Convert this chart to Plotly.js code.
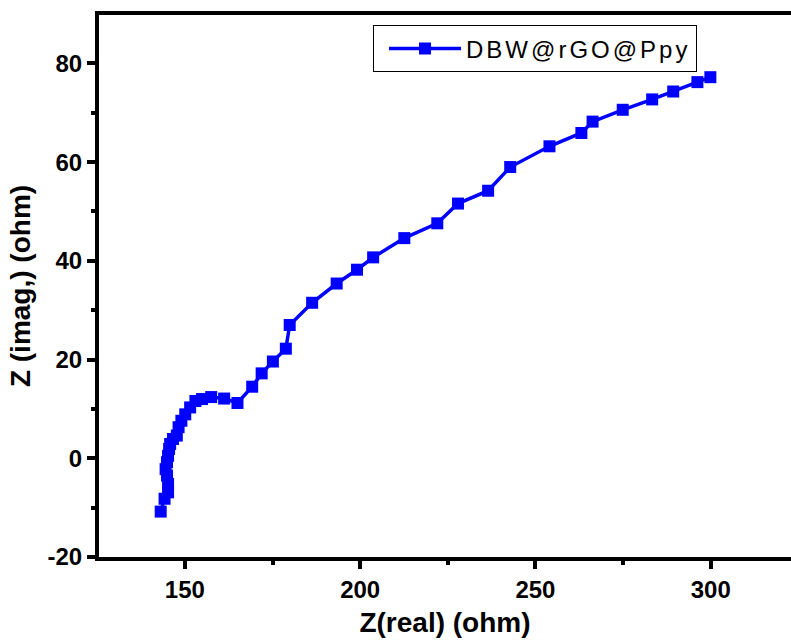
<!DOCTYPE html>
<html>
<head>
<meta charset="utf-8">
<script src="https://cdn.plot.ly/plotly-3.0.1.min.js"></script>
<style>
html,body{margin:0;padding:0;background:#fff;}
#chart{width:791px;height:642px;}
.legendtext{letter-spacing:3px;}
</style>
</head>
<body>
<div id="chart"></div>
<script>
// Data (Nyquist plot)
var seriesName = "DBW@rGO@Ppy";
var zReal = [143.1,144.2,145.2,145.2,144.9,144.5,144.9,145.2,145.5,145.8,146.6,147.7,148.2,149.0,150.1,151.5,153.0,154.9,157.5,161.2,165.0,169.2,171.9,175.1,178.8,179.9,186.3,193.3,199.1,203.7,212.6,222.0,227.9,236.5,242.8,254.0,263.1,266.3,274.9,283.3,289.3,296.2,299.9];
var zImag = [-10.8,-8.2,-6.9,-5.2,-3.5,-2.2,-0.8,0.5,1.9,2.9,3.9,4.6,6.3,7.6,8.9,10.3,11.6,12.0,12.4,12.1,11.2,14.5,17.2,19.6,22.2,27.0,31.5,35.4,38.2,40.7,44.6,47.6,51.6,54.2,59.0,63.2,65.9,68.2,70.6,72.7,74.3,76.2,77.2];
var xTickVals = [150,200,250,300];
var xTickText = ["150","200","250","300"];
var yTickVals = [-20,0,20,40,60,80];
var yTickText = ["-20","0","20","40","60","80"];

var FONT = "Liberation Sans, Arial, Helvetica, sans-serif";

var trace = {
  x: zReal, y: zImag, name: seriesName,
  type: "scatter", mode: "lines+markers",
  line: {color: "#0000FF", width: 3.5},
  marker: {symbol: "square", size: 12, color: "#0000FF"}
};

var layout = {
  width: 791, height: 642,
  margin: {l: 99, r: 0, t: 15, b: 85},
  paper_bgcolor: "#fff", plot_bgcolor: "#fff",
  showlegend: true,
  legend: {
    x: 0.396, y: 0.9375, xanchor: "left", yanchor: "middle",
    bordercolor: "#000", borderwidth: 1, bgcolor: "#fff",
    font: {family: FONT, size: 24, color: "#000"},
    itemwidth: 72, indentation: 10
  },
  xaxis: {
    range: [125.5, 322.9],
    tickvals: xTickVals, ticktext: xTickText, ticks: "outside", ticklen: 8, tickwidth: 4, tickcolor: "#000",
    minor: {dtick: 25, tick0: 125, ticks: "outside", ticklen: 4, tickwidth: 4, tickcolor: "#000"},
    showline: true, linewidth: 4, linecolor: "#000", mirror: true,
    showgrid: false, zeroline: false,
    tickfont: {family: FONT, size: 24, color: "#000", weight: "bold"},
    title: {text: "Z(real) (ohm)", font: {family: FONT, size: 28, color: "#000", weight: "bold"}, standoff: 12}
  },
  yaxis: {
    range: [-20, 89.8],
    tickvals: yTickVals, ticktext: yTickText, ticks: "outside", ticklen: 8, tickwidth: 4, tickcolor: "#000",
    minor: {dtick: 10, tick0: -10, ticks: "outside", ticklen: 4, tickwidth: 4, tickcolor: "#000"},
    showline: true, linewidth: 4, linecolor: "#000", mirror: false,
    showgrid: false, zeroline: false,
    tickfont: {family: FONT, size: 24, color: "#000", weight: "bold"},
    title: {text: "Z (imag,) (ohm)", font: {family: FONT, size: 28, color: "#000", weight: "bold"}, standoff: 10}
  }
};

Plotly.newPlot("chart", [trace], layout, {displayModeBar: false, staticPlot: true});
</script>
</body>
</html>
